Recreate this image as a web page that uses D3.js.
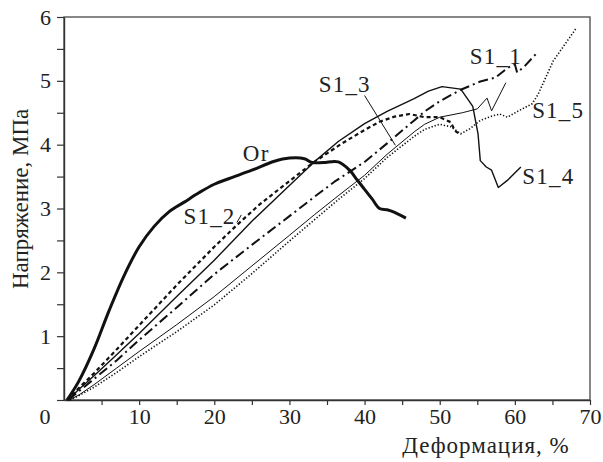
<!DOCTYPE html>
<html>
<head>
<meta charset="utf-8">
<script src="https://cdn.jsdelivr.net/npm/d3@7"></script>
<style>
  body { margin: 0; background: #fff; }
  svg text { font-family: "Liberation Serif", "DejaVu Serif", serif; fill: #222; }
</style>
</head>
<body>
<div id="chart-area"></div>
<script>
/*
*    stress-strain chart
*/

// tick values
var xTicks = [10, 20, 30, 40, 50, 60, 70];
var yTicks = [1, 2, 3, 4, 5, 6];
var xMinor = [5, 15, 25, 35, 45, 55, 65];
var yMinor = [0.5, 1.5, 2.5, 3.5, 4.5, 5.5];

// series: [strain %, stress MPa]
var seriesOr = [[0.4,0],[2,0.3],[4,0.8],[6,1.4],[8,1.95],[10,2.4],[12,2.72],[14,2.95],[16,3.1],[18,3.25],
    [20,3.38],[22,3.47],[25,3.6],[28,3.74],[30,3.79],[32,3.78],[33,3.72],[34.5,3.72],[36.5,3.73],[38,3.6],
    [39,3.45],[40,3.3],[41,3.15],[42,3.0],[43,2.98],[44,2.94],[45.5,2.85]];
var seriesS1_1 = [[0.6,0],[2,0.14],[4,0.33],[7,0.62],[10,0.94],[15,1.45],[20,1.97],[25,2.43],[30,2.88],
    [33.3,3.18],[36,3.42],[40,3.73],[43,4.02],[46.6,4.38],[48,4.52],[50,4.68],[52.8,4.86],[55.4,4.99],
    [57.4,5.05],[59,5.2],[60,5.26],[60.3,5.13],[61.3,5.23],[62.8,5.42]];
var seriesS1_2 = [[0.4,0],[2,0.19],[4,0.42],[7,0.79],[10,1.17],[15,1.8],[20,2.4],[23,2.74],[26,3.06],
    [30,3.43],[33.3,3.73],[37,4.02],[40,4.23],[42,4.36],[44,4.44],[46,4.48],[48,4.43],[50,4.43],
    [51.5,4.35],[52,4.22],[52.6,4.17]];
var seriesS1_3 = [[0.7,0],[2,0.08],[4,0.24],[7,0.5],[10,0.76],[15,1.18],[20,1.62],[25,2.1],[30,2.58],
    [33.3,2.9],[36.5,3.2],[40,3.52],[43,3.85],[46.6,4.2],[48,4.32],[50,4.43],[53,4.5],[55,4.56],
    [56.3,4.73],[56.9,4.53],[58.8,4.97]];
var seriesS1_4 = [[0.5,0],[2,0.17],[4,0.38],[7,0.71],[10,1.04],[15,1.62],[20,2.19],[25,2.8],[30,3.36],
    [33.3,3.73],[36.5,4.05],[40,4.33],[43,4.52],[46.6,4.72],[48.5,4.84],[50.3,4.91],[52.8,4.87],
    [54.4,4.6],[55.1,4.17],[55.4,3.75],[56.2,3.65],[56.9,3.6],[57.8,3.33],[59,3.44],[60.8,3.65]];
var seriesS1_5 = [[0.8,0],[2,0.07],[4,0.2],[7,0.43],[10,0.68],[15,1.07],[20,1.49],[25,1.98],[30,2.49],
    [33.3,2.82],[36.5,3.14],[40,3.47],[43,3.8],[46.6,4.13],[48,4.24],[50,4.32],[51.5,4.28],[52.8,4.17],
    [54,4.25],[55.4,4.38],[57,4.45],[58,4.48],[59,4.43],[60.5,4.53],[62.3,4.64],[63.1,4.79],
    [65.1,5.31],[68.2,5.83]];

var labelNames = ["S1_1", "S1_2", "S1_3", "S1_4", "S1_5", "Or"];
var labelPos = [[54.0,5.27],[15.9,2.76],[33.9,4.83],[61.0,3.39],[62.3,4.42],[23.8,3.75]];

var width = 603, height = 462;
var margin = {top: 17, right: 13, bottom: 62, left: 64};

var svg = d3.select("#chart-area").append("svg")
    .attr("width", width)
    .attr("height", height);

var x = d3.scaleLinear()
    .domain([0, 70])
    .range([margin.left, width - margin.right]);

var y = d3.scaleLinear()
    .domain([0, 6])
    .range([height - margin.bottom, margin.top]);

// frame
svg.append("rect")
    .attr("x", x(0))
    .attr("y", y(6))
    .attr("width", x(70) - x(0))
    .attr("height", y(0) - y(6))
    .attr("fill", "none")
    .attr("stroke", "#555")
    .attr("stroke-width", 1.4);

// axes
var xAxis = svg.append("g")
    .attr("transform", "translate(0," + y(0) + ")")
    .call(d3.axisBottom(x).tickValues(xTicks.concat(xMinor)).tickSize(5).tickSizeOuter(0).tickPadding(3)
        .tickFormat((d) => xTicks.indexOf(d) >= 0 ? d : ""));

var yAxis = svg.append("g")
    .attr("transform", "translate(" + x(0) + ",0)")
    .call(d3.axisLeft(y).tickValues([0].concat(yTicks, yMinor)).tickSize(7).tickSizeOuter(0).tickPadding(6)
        .tickFormat((d) => yTicks.indexOf(d) >= 0 ? d : ""));

[xAxis, yAxis].forEach((g) => {
    g.select(".domain").attr("stroke", "#333").attr("stroke-width", 1.4);
    g.selectAll(".tick line").attr("stroke", "#333").attr("stroke-width", 1.2);
    g.selectAll(".tick text").attr("font-size", 22).attr("font-family", null).attr("fill", "#222");
});

// corner zero
svg.append("text")
    .attr("x", x(0) - 19)
    .attr("y", y(0) + 24)
    .attr("text-anchor", "middle")
    .attr("font-size", 22)
    .text("0");

// axis titles
svg.append("text")
    .attr("x", x(67.3))
    .attr("y", y(0) + 53)
    .attr("text-anchor", "end")
    .attr("font-size", 23)
    .attr("letter-spacing", 1)
    .text("Деформация, %");

svg.append("text")
    .attr("transform", "translate(28," + y(3.15) + ") rotate(-90)")
    .attr("text-anchor", "middle")
    .attr("font-size", 23)
    .text("Напряжение, МПа");

// curves
var line = d3.line()
    .x((d) => x(d[0]))
    .y((d) => y(d[1]));

var smooth = d3.line()
    .x((d) => x(d[0]))
    .y((d) => y(d[1]))
    .curve(d3.curveCatmullRom.alpha(0.5));

var curves = [
    {data: seriesS1_5, gen: line, w: 1.6, dash: "1.3,1.9"},
    {data: seriesS1_3, gen: line, w: 1.0, dash: null},
    {data: seriesS1_1, gen: line, w: 2.0, dash: "10,4,2,4"},
    {data: seriesS1_4, gen: line, w: 1.4, dash: null},
    {data: seriesS1_2, gen: line, w: 2.2, dash: "4,3"},
    {data: seriesOr, gen: smooth, w: 3.0, dash: null}
];

curves.forEach((c) => {
    svg.append("path")
        .datum(c.data)
        .attr("d", c.gen)
        .attr("fill", "none")
        .attr("stroke", "#111")
        .attr("stroke-width", c.w)
        .attr("stroke-dasharray", c.dash)
        .attr("stroke-linejoin", "round");
});

// leader lines
svg.append("line")
    .attr("x1", x(40.0)).attr("y1", y(4.77))
    .attr("x2", x(44.1)).attr("y2", y(3.99))
    .attr("stroke", "#111").attr("stroke-width", 1);

svg.append("line")
    .attr("x1", x(23.0)).attr("y1", y(2.78))
    .attr("x2", x(23.6)).attr("y2", y(2.9))
    .attr("stroke", "#111").attr("stroke-width", 1);

// curve labels
svg.selectAll(".clabel")
    .data(labelNames)
    .enter()
    .append("text")
    .attr("class", "clabel")
    .attr("x", (d, i) => x(labelPos[i][0]))
    .attr("y", (d, i) => y(labelPos[i][1]))
    .attr("font-size", 23)
    .attr("letter-spacing", 1.2)
    .text((d) => d);
</script>
</body>
</html>
